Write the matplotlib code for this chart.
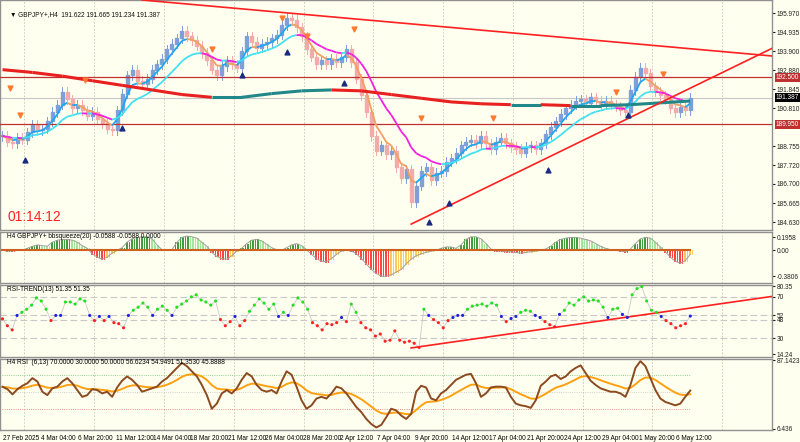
import numpy as np
import matplotlib
matplotlib.use("Agg")
import matplotlib.pyplot as plt
from matplotlib.collections import LineCollection

plt.rcParams['font.family'] = ['Liberation Sans', 'DejaVu Sans']

# ---------------- data (one sample = 2 H4 bars) ----------------
closes = [189.3,189.0,188.9,189.2,189.1,189.5,189.9,189.6,189.7,190.1,190.6,191.0,191.7,191.3,190.8,191.0,190.7,190.4,190.6,190.2,
          190.0,189.7,189.6,190.7,191.6,192.6,192.9,192.3,192.1,192.4,192.9,193.2,193.5,194.0,194.3,194.6,195.0,194.7,194.5,194.2,
          193.8,193.4,192.9,192.6,193.1,193.4,193.2,193.0,193.9,194.7,194.4,194.1,194.3,194.4,194.6,194.8,195.3,195.7,195.6,195.2,
          194.7,194.0,193.6,193.2,193.4,193.2,193.5,193.3,193.6,194.0,193.3,192.4,191.5,190.6,189.3,188.5,188.8,188.3,188.5,187.6,
          187.0,187.5,185.7,186.6,187.4,187.6,186.9,187.3,187.4,187.9,188.1,188.4,188.8,189.0,189.1,188.9,189.3,188.9,188.6,189.0,
          189.2,188.9,188.7,188.6,188.4,188.7,188.8,188.6,188.9,189.4,189.8,190.1,190.5,190.8,191.0,191.2,191.3,191.1,191.4,191.2,
          191.0,191.2,191.0,190.9,190.7,190.6,191.8,192.5,193.0,192.7,192.0,191.7,191.5,191.3,190.8,190.6,190.9,190.7,191.387]
ma_long = [192.9,192.75,192.55,192.3,192.05,191.8,191.55,191.4,191.4,191.6,191.75,191.8,191.75,191.55,191.35,191.15,191.05,191.0,
           191.0,190.95,190.95,191.0,191.1,191.2]
squeeze = [0,-0.01,-0.01,0,0,0.03,0.06,0.08,0.07,0.06,0.12,0.15,0.16,0.16,0.15,0.12,0.07,0.03,-0.05,-0.1,
           -0.13,-0.1,-0.04,0,0.04,0.12,0.17,0.19,0.2,0.2,0.17,0.08,0.01,0,0.01,0.12,0.19,0.21,0.2,0.18,
           0.12,0.06,-0.03,-0.09,-0.12,-0.13,-0.08,-0.01,0.03,0.1,0.15,0.16,0.14,0.09,0.04,0.01,0,0.04,0.08,0.1,
           0.07,0.01,-0.06,-0.12,-0.16,-0.17,-0.12,-0.06,-0.01,0,-0.01,-0.05,-0.12,-0.2,-0.28,-0.34,-0.38,-0.38,-0.36,-0.32,
           -0.28,-0.2,-0.13,-0.08,-0.05,-0.03,-0.01,0,0.03,0.05,0.05,0.03,0.08,0.16,0.2,0.2,0.17,0.1,0.02,-0.01,
           -0.01,-0.02,-0.02,-0.03,-0.04,-0.03,-0.02,-0.01,0,0.02,0.06,0.12,0.16,0.18,0.19,0.19,0.18,0.16,0.14,0.1,
           0.06,0.03,0.01,0,-0.01,-0.02,0.02,0.1,0.17,0.19,0.18,0.12,0.05,-0.02,-0.1,-0.16,-0.19,-0.15,-0.06]
rsi_trend = [48.7,42,38,52,55,58,62,69,66,58,47,52,52,65,65,63,68,66,52,47,
             51,47,51,45,44,40,52,57,60,64,60,52,58,61,57,52,60,63,66,70,
             72,67,65,62,66,48,42,46,51,42,47,56,62,68,64,58,63,51,55,52,
             62,69,65,58,45,42,38,44,43,45,50,46,63,55,45,40,38,32,34,27,
             28,37,28,26,27,25,21,58,52,48,45,40,47,50,52,52,58,61,62,63,
             61,64,62,51,46,49,51,55,57,56,52,50,46,43,41,53,57,64,62,67,
             70,66,67,66,60,50,58,59,53,50,72,78,80,66,57,55,51,47,44,40,42,44,51.35]
rsi = [55.8,53,47,53,57,60,66,62,50,46,54,56,62,66,60,52,44,46,53,52,
       48,50,44,55,63,68,64,58,50,52,54,56,62,66,72,78,84,80,74,68,
       58,46,30,36,48,52,48,54,64,72,68,58,52,50,52,48,62,74,70,56,
       40,30,34,42,44,42,48,56,54,48,40,32,26,18,12,8,11,20,30,28,
       22,18,24,50,57,55,42,40,48,52,58,64,67,70,71,60,44,48,55,56,
       56,55,44,36,34,33,31,40,57,62,68,70,65,68,74,78,81,72,63,58,
       54,52,50,50,48,44,58,78,86,80,66,52,42,38,36,34,36,44,51.35]
tick_labels = ["27 Feb 2025","4 Mar 04:00","6 Mar 20:00","11 Mar 12:00","14 Mar 04:00","18 Mar 20:00",
               "21 Mar 12:00","26 Mar 04:00","28 Mar 20:00","2 Apr 12:00","7 Apr 04:00","9 Apr 20:00",
               "14 Apr 12:00","17 Apr 04:00","21 Apr 20:00","24 Apr 12:00","29 Apr 04:00","1 May 20:00","6 May 12:00"]
price_ticks = [195.970,194.935,193.900,192.880,191.845,190.810,188.755,187.720,186.700,185.665,184.630]
levels = [192.500, 189.950]
current = 191.387
dn_idx = [3,7,33,84,112,122,141,168,197,246,265]
dn_price = [191.9,190.43,192.33,194.02,195.7,194.72,195.1,190.27,190.27,191.68,192.66]
up_idx = [9,48,96,114,137,171,179,219,251]
up_price = [188.0,189.73,192.61,193.85,192.17,184.63,185.66,187.45,190.43]
upper_line = ([56, 309], [196.68, 193.64])
lower_line = ([164, 309], [184.52, 194.07])

# ---------------- setup ----------------
BG = '#fffff0'
W, H = 800, 442
FS = 4.7
fig = plt.figure(figsize=(8, 4.42), dpi=100, facecolor=BG)
XR = 772 / 2.5
LAST = 276.0
def xs(series):
    return np.linspace(0, LAST, len(series))

def mkax(y0, y1):
    ax = fig.add_axes([0, (H - y1) / H, 772 / W, (y1 - y0) / H], facecolor=BG)
    ax.set_xlim(-1, XR)
    for s in ax.spines.values():
        s.set_color('#909090'); s.set_linewidth(1.0)
    ax.tick_params(axis='y', which='both', left=False, right=True, labelleft=False, labelright=True,
                   labelsize=FS, length=2, pad=1.5, colors='#222222')
    ax.tick_params(axis='x', bottom=False, labelbottom=False)
    gx = (22 + 70 * np.arange(11)) / 2.5
    for g in gx:
        ax.axvline(g, color='#c8c8b0', lw=0.6, ls=(0, (2, 2)), zorder=0)
    return ax

c = np.array(closes)
x = xs(c)
n = len(c)
o = np.r_[c[0], c[:-1]]

# main
ax = mkax(0, 230)
ax.set_ylim(184.20, 196.68)
ax.set_yticks(price_ticks)
ax.set_yticklabels([f"{p:.3f}" for p in price_ticks])
for i in range(n):
    hi = max(o[i], c[i]) + 0.25; lo = min(o[i], c[i]) - 0.25
    col = '#7f9fd8' if c[i] >= o[i] else '#f2aaaa'
    ax.plot([x[i], x[i]], [lo, hi], color=col, lw=0.7, zorder=2)
    ax.add_patch(plt.Rectangle((x[i] - 0.6, min(o[i], c[i])), 1.2, max(abs(c[i] - o[i]), 0.03),
                               color=col, zorder=2))
def ema(v, span):
    a = 2 / (span + 1); out = [v[0]]
    for t in v[1:]:
        out.append(out[-1] + a * (t - out[-1]))
    return np.array(out)
def colored(ax_, xx, ys, cu, cd, lw):
    pts = np.column_stack([xx, ys])
    segs = np.stack([pts[:-1], pts[1:]], axis=1)
    cols = [cu if ys[k + 1] >= ys[k] else cd for k in range(len(ys) - 1)]
    ax_.add_collection(LineCollection(segs, colors=cols, linewidths=lw, zorder=4))
fast = ema(c, 4); slow = ema(c, 12)
colored(ax, x, fast, '#1ea6f0', '#f0a060', 1.3)
colored(ax, x, slow, '#40e0f0', '#f020e0', 1.3)
colored(ax, xs(ma_long), np.array(ma_long), '#208888', '#e82020', 2.2)
for lv in levels:
    ax.axhline(lv, color='#c03030', lw=0.9, zorder=3)
ax.axhline(current, color='#c8c8c8', lw=0.8, zorder=1)
ax.plot(*upper_line, color='#ff2020', lw=1.2, zorder=5)
ax.plot(*lower_line, color='#ff2020', lw=1.2, zorder=5)
ax.scatter(dn_idx, dn_price, marker='v', s=12, color='#ff7a30', zorder=6)
ax.scatter(up_idx, up_price, marker='^', s=12, color='#1a2a80', zorder=6)
ax.text(3, 195.9, "▼ GBPJPY+,H4  191.622 191.665 191.234 191.387", fontsize=FS, va='center', color='#111111')
ax.text(2, 184.9, "01:14:12", fontsize=10, color='#ff2020', va='center')
for lv, fc in [(192.5, '#c03030'), (189.95, '#c03030'), (current, '#000000')]:
    ax.text(XR + 1.6, lv, f"{lv:.3f}", fontsize=FS, color='white', va='center', ha='left',
            bbox=dict(boxstyle='square,pad=0.15', fc=fc, ec='none'), clip_on=False, zorder=10)

# squeeze
ax2 = mkax(232, 283)
sq = np.array(squeeze); xq = xs(sq)
ax2.set_ylim(-0.48, 0.27)
ax2.set_yticks([0.1958, 0.0, -0.3806]); ax2.set_yticklabels(["0.1958", "0.00", "-0.3806"])
for i in range(len(sq)):
    prev = sq[i - 1] if i else sq[i]
    if sq[i] >= 0:
        col = '#1a8a1a' if sq[i] >= prev else '#90e090'
    else:
        col = '#ff2020' if sq[i] <= prev else '#ffc040'
    for d in (-0.6, 0.0, 0.6):
        ax2.plot([xq[i] + d, xq[i] + d], [0, sq[i]], color=col, lw=0.6)
ax2.plot(xq, sq, color='#a0a0a0', lw=0.7)
ax2.plot(xq, np.zeros_like(xq), color='#d06020', lw=1.5)
ax2.text(2, 0.2, "H4 GBPJPY+ bbsqueeze(20) -0.0588 -0.0588 0.0000", fontsize=FS, va='center')

# rsi trend
ax3 = mkax(285, 357)
rt = np.array(rsi_trend); xt = xs(rt)
ax3.set_ylim(11.7, 81.5)
ax3.set_yticks([80.35, 70, 52, 48, 30, 14.24]); ax3.set_yticklabels(["80.35", "70", "52", "48", "30", "14.24"])
for lv in [70, 52, 48, 30]:
    ax3.axhline(lv, color='#c8c8c8', lw=0.8, ls=(0, (6, 3)), zorder=0)
ax3.plot(xt, rt, color='#c8c8c8', lw=0.6)
cols = ['#20e020' if v > 53 else ('#2020e0' if v >= 49 else '#ff2020') for v in rt]
ax3.scatter(xt, rt, c=cols, s=5, zorder=3, linewidths=0)
ax3.plot([164, 309], [20.5, 70.5], color='#ff2020', lw=1.2)
ax3.text(2, 77, "RSI-TREND(13) 51.35 51.35", fontsize=FS, va='center')

# rsi
ax4 = mkax(359, 430)
r = np.array(rsi); xr = xs(r)
ax4.set_ylim(5.0, 88.5)
ax4.set_yticks([87.1423, 6.436]); ax4.set_yticklabels(["87.1423", "6.436"])
ax4.plot([0, LAST], [70, 70], color='#70c070', lw=0.6, ls=':')
ax4.plot([0, LAST], [50, 50], color='#c0c0c0', lw=0.6, ls=':')
ax4.plot([0, LAST], [30, 30], color='#e07070', lw=0.6, ls=':')
ax4.plot(xr, ema(r, 10), color='#ffa010', lw=1.4)
ax4.plot(xr, r, color='#8b4a20', lw=1.4)
ax4.text(2, 84, "H4 RSI  (6,13) 70.0000 30.0000 50.0000 56.6234 54.9491 51.3530 45.8888", fontsize=FS, va='center')
tpos = (1 + 37.5 * np.arange(len(tick_labels))) / 2.5
for tp, tl in zip(tpos, tick_labels):
    ax4.text(tp, -0.12, tl, transform=ax4.get_xaxis_transform(), fontsize=FS, ha='left', va='center',
             clip_on=False)

fig.savefig("out.png", dpi=100, facecolor=BG)
